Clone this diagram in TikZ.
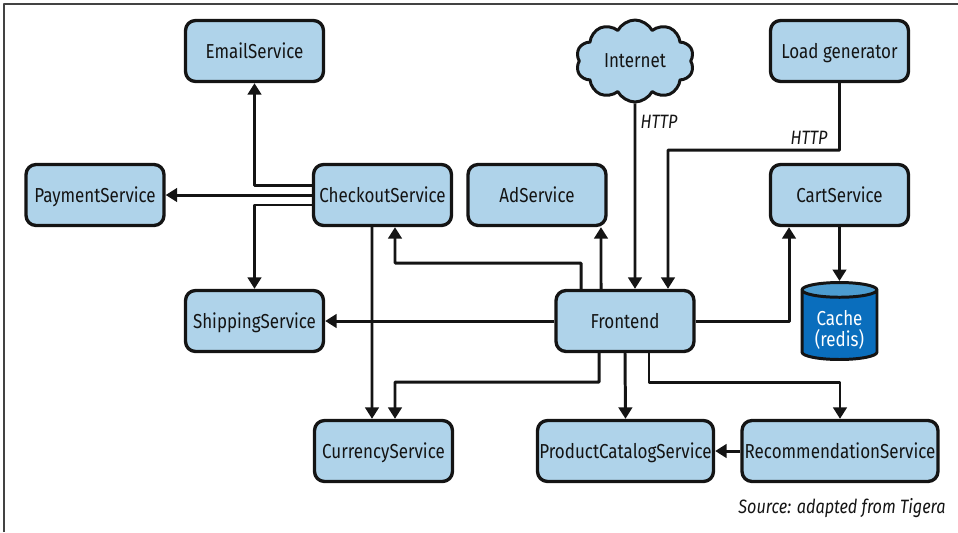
\documentclass[tikz,border=0pt]{standalone}
\usepackage{fontspec}
\setmainfont[FakeStretch=0.84]{Fira Sans}
\usetikzlibrary{arrows.meta,shapes.geometric,shapes.symbols}
\definecolor{boxblue}{HTML}{AFD3EA}
\definecolor{dbbody}{HTML}{0A6EBD}
\definecolor{dbtop}{HTML}{4C9CD0}
\definecolor{ink}{HTML}{141414}
\tikzset{
	svc/.style={draw=ink, fill=boxblue, line width=1.9pt, rounded corners=0.2cm, minimum width=#1, minimum height=1.22cm, inner sep=0pt, text=ink, text height=0.34cm, text depth=0.04cm},
	svc/.default=2.76cm,
	conn/.style={->, draw=ink, line width=1.7pt},
	note/.style={font=\fontsize{11}{13}\selectfont\itshape, text=ink, inner sep=0pt}
}
\begin{document}
\begin{tikzpicture}[x=0.02cm, y=-0.02cm, font=\fontsize{11.5}{13}\selectfont, line join=round, >={Triangle[length=0.23cm, width=0.27cm]}]
	\useasboundingbox (0,0) rectangle (958,532);
	\draw[line width=0.8pt, draw=ink!80] (4,532)--(4,4)--(958,4);
	\node[svc] (email) at (254.5,51) {EmailService};
	\node[svc] (pay) at (95,195) {PaymentService};
	\node[svc] (check) at (382.5,195) {CheckoutService};
	\node[svc] (ad) at (537,195) {AdService};
	\node[svc] (cart) at (839.5,195) {CartService};
	\node[svc] (load) at (839.5,51) {Load generator};
	\node[svc] (ship) at (254.5,321) {ShippingService};
	\node[svc] (front) at (625,321) {Frontend};
	\node[svc] (curr) at (383.5,451) {CurrencyService};
	\node[svc=3.52cm] (prod) at (625.5,451) {ProductCatalogService};
	\node[svc=3.92cm] (rec) at (840,451) {RecommendationService};
	\node[cloud, cloud puffs=10, cloud puff arc=125, aspect=1.45, draw=ink, fill=boxblue, line width=1.7pt, minimum width=2.36cm, minimum height=1.64cm, inner sep=0pt, text=ink] (net) at (635,61) {Internet};
	\node[cylinder, anchor=shape center, shape border rotate=90, aspect=0.3, cylinder uses custom fill, cylinder body fill=dbbody, cylinder end fill=dbtop, draw=ink, line width=1.7pt, minimum width=1.5cm, minimum height=1.54cm, inner sep=0pt, align=center, text=white, font=\fontsize{11.5}{12}\selectfont] (cache) at (839.5,321) {\rule{0pt}{13.7pt}Cache\\(redis)};
	\node[note] (http1) at (659,122) {HTTP};
	\node[note] (http2) at (809,138) {HTTP};
	\node[note] (src) at (842,508) {Source: adapted from Tigera};
	\draw[conn] ([yshift=0.2cm]check.west) -| (email.south);
	\draw[conn] (check.west) -- (pay.east);
	\draw[conn] ([yshift=-0.2cm]check.west) -| (ship.north);
	\draw[conn] ([xshift=-0.21cm]check.south) -- ([xshift=-0.23cm]curr.north);
	\draw[conn] ([xshift=-0.88cm]front.north) |- (395,263) -- ([xshift=0.25cm]check.south);
	\draw[conn] ([xshift=-0.48cm]front.north) -- ([xshift=1.28cm]ad.south);
	\draw[conn] (net.south) -- ([xshift=0.2cm]front.north);
	\draw[conn] (load.south) |- (668,150) -- ([xshift=0.86cm]front.north);
	\draw[conn] (front.east) -| ([xshift=-1.01cm]cart.south);
	\draw[conn] (cart.south) -- (cache.north);
	\draw[conn] (front.west) -- (ship.east);
	\draw[conn] ([xshift=-0.52cm]front.south) |- (395,382) -- ([xshift=0.23cm]curr.north);
	\draw[conn] (front.south) -- (prod.north);
	\draw[conn] ([xshift=0.48cm]front.south) |- (rec.north |- 0,382) -- (rec.north);
	\draw[conn] (rec.west) -- (prod.east);
\end{tikzpicture}
\end{document}
